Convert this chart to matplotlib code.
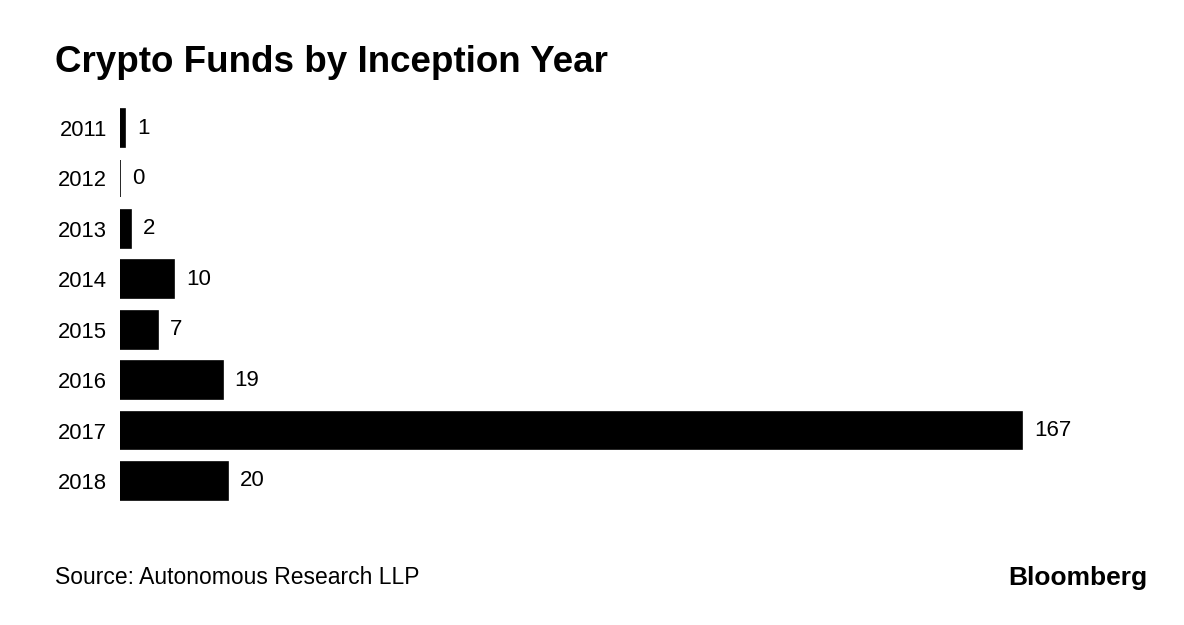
import matplotlib
matplotlib.use('Agg')
import matplotlib.pyplot as plt

plt.rcParams['font.family'] = ['Liberation Sans', 'DejaVu Sans']

# data
years = ['2011', '2012', '2013', '2014', '2015', '2016', '2017', '2018']
funds = [1, 0, 2, 10, 7, 19, 167, 20]

fig = plt.figure(figsize=(11.84, 6.25), dpi=100)
ax = fig.add_axes([120/1184, 1 - 506.2/625, 1030/1184, 403.4/625])

pos = list(range(len(years)))
ax.barh(pos, funds, height=0.75, color='black', edgecolor='black', linewidth=1.2)
ax.set_ylim(len(years) - 0.5, -0.5)
ax.set_xlim(0, 190.7)

ax.set_yticks(pos)
ax.set_yticklabels(years, fontsize=15.8)
ax.tick_params(axis='y', length=0, pad=9.5)
ax.set_xticks([])
for s in ax.spines.values():
    s.set_visible(False)

# value labels
for p, v in zip(pos, funds):
    ax.annotate(str(v), (v, p), xytext=(8.5, 0), textcoords='offset points',
                va='center', ha='left', fontsize=16)

fig.text(55/1184, 1 - 63/625, 'Crypto Funds by Inception Year', fontsize=26.5,
         fontweight='bold', va='center', ha='left')
fig.text(55/1184, 1 - 578/625, 'Source: Autonomous Research LLP', fontsize=16.5,
         va='center', ha='left')
fig.text(1147/1184, 1 - 578/625, 'Bloomberg', fontsize=19, fontweight='bold',
         va='center', ha='right')

fig.savefig('out.png', dpi=100)
